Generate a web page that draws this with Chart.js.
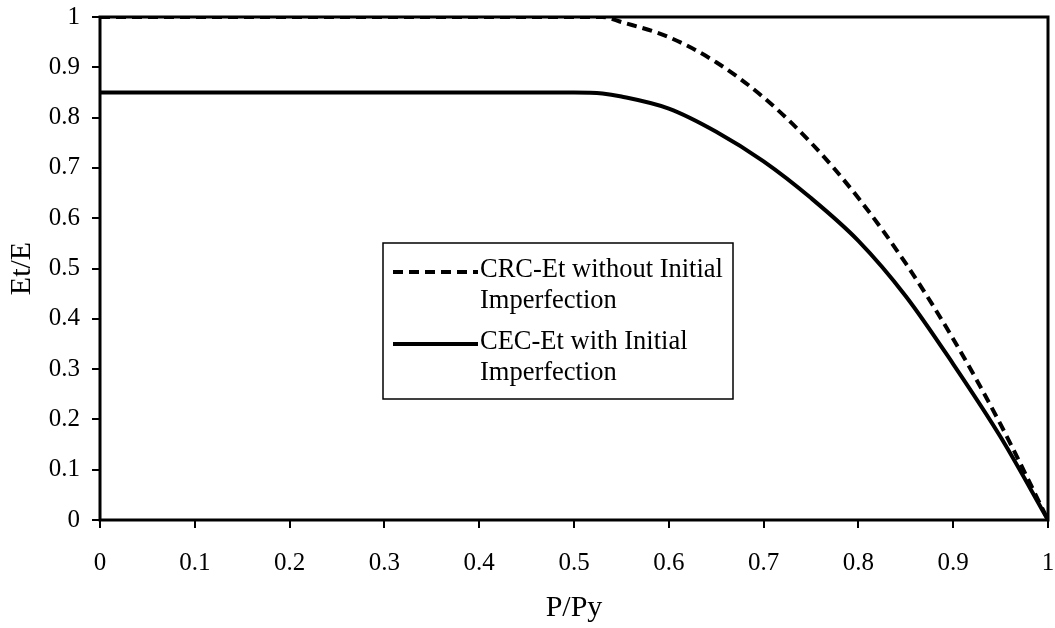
<!DOCTYPE html>
<html>
<head>
<meta charset="utf-8">
<script src="https://cdn.jsdelivr.net/npm/chart.js@4/dist/chart.umd.min.js"></script>
<style>
  html, body { margin: 0; padding: 0; background: #fff; }
  #wrap { width: 1055px; height: 628px; }
</style>
</head>
<body>
<div id="wrap"><canvas id="chart"></canvas></div>
<script>
// P/Py values (x) shared by both curves
const pPy = [0, 0.1, 0.2, 0.3, 0.4, 0.5, 0.53, 0.55, 0.6, 0.65, 0.7, 0.75, 0.8, 0.85, 0.9, 0.95, 1]
// Et/E
const crcEt = [1, 1, 1, 1, 1, 1, 1, 0.99, 0.96, 0.91, 0.84, 0.75, 0.64, 0.51, 0.36, 0.19, 0]
const cecEt = [0.85, 0.85, 0.85, 0.85, 0.85, 0.85, 0.848, 0.842, 0.818, 0.772, 0.713, 0.64, 0.555, 0.445, 0.31, 0.165, 0]
const seriesNames = ['CRC-Et without Initial Imperfection', 'CEC-Et with Initial Imperfection']
const legendLines = [['CRC-Et without Initial', 'Imperfection'], ['CEC-Et with Initial', 'Imperfection']]

const FONT = '"Liberation Serif", "Times New Roman", serif'
const toPoints = (xs, ys) => xs.map((x, i) => ({x: x, y: ys[i]}))
const fmt = v => String(+v.toFixed(1))

// frame round the plot area + boxed legend in the middle
const framePlugin = {
    id: 'frame',
    afterDatasetsDraw(chart) {
        const {ctx, chartArea: a} = chart
        ctx.save()
        ctx.strokeStyle = '#000'
        ctx.lineWidth = 3
        ctx.strokeRect(a.left, a.top, a.right - a.left, a.bottom - a.top)
        ctx.restore()
    },
    afterDraw(chart) {
        const ctx = chart.ctx
        const box = {x: 383, y: 243, w: 350, h: 156}
        ctx.save()
        ctx.fillStyle = '#fff'
        ctx.fillRect(box.x, box.y, box.w, box.h)
        ctx.strokeStyle = '#000'
        ctx.lineWidth = 1.5
        ctx.strokeRect(box.x, box.y, box.w, box.h)
        ctx.font = '26.5px ' + FONT
        ctx.fillStyle = '#000'
        ctx.textBaseline = 'alphabetic'
        const rows = [277, 349]
        chart.data.datasets.forEach((ds, i) => {
            const y0 = rows[i]
            ctx.beginPath()
            ctx.strokeStyle = '#000'
            ctx.lineWidth = ds.borderWidth
            ctx.setLineDash(ds.borderDash || [])
            ctx.moveTo(393, y0 - 5)
            ctx.lineTo(478, y0 - 5)
            ctx.stroke()
            ctx.setLineDash([])
            legendLines[i].forEach((t, j) => ctx.fillText(t, 480, y0 + j * 31))
        })
        ctx.restore()
    }
}

new Chart(document.getElementById('chart'), {
    type: 'line',
    data: {
        datasets: [{
            label: seriesNames[0],
            data: toPoints(pPy, crcEt),
            borderColor: '#000',
            borderWidth: 4,
            borderDash: [10, 6],
            pointRadius: 0,
            cubicInterpolationMode: 'monotone',
            fill: false
        }, {
            label: seriesNames[1],
            data: toPoints(pPy, cecEt),
            borderColor: '#000',
            borderWidth: 4,
            pointRadius: 0,
            cubicInterpolationMode: 'monotone',
            fill: false
        }]
    },
    options: {
        responsive: true,
        maintainAspectRatio: false,
        animation: false,
        layout: {padding: {top: 17, right: 7, left: 0, bottom: 0}},
        plugins: {
            legend: {display: false},
            tooltip: {enabled: false}
        },
        scales: {
            x: {
                type: 'linear',
                min: 0,
                max: 1,
                afterFit: s => { s.height = 108; s.paddingLeft = 0; s.paddingRight = 0 },
                grid: {drawOnChartArea: false, drawTicks: true, tickLength: 8, color: '#000', lineWidth: 2},
                border: {display: false},
                ticks: {stepSize: 0.1, color: '#000', padding: 20, font: {family: FONT, size: 25}, callback: fmt},
                title: {display: true, text: 'P/Py', color: '#000', font: {family: FONT, size: 30}, padding: {top: 0, bottom: 2}}
            },
            y: {
                min: 0,
                max: 1,
                afterFit: s => { s.width = 100; s.paddingTop = 0; s.paddingBottom = 0 },
                grid: {drawOnChartArea: false, drawTicks: true, tickLength: 8, color: '#000', lineWidth: 2},
                border: {display: false},
                ticks: {stepSize: 0.1, color: '#000', padding: 12, font: {family: FONT, size: 25}, callback: fmt},
                title: {display: true, text: 'Et/E', color: '#000', font: {family: FONT, size: 30}, padding: {top: 4, bottom: 0}}
            }
        }
    },
    plugins: [framePlugin]
})
</script>
</body>
</html>
